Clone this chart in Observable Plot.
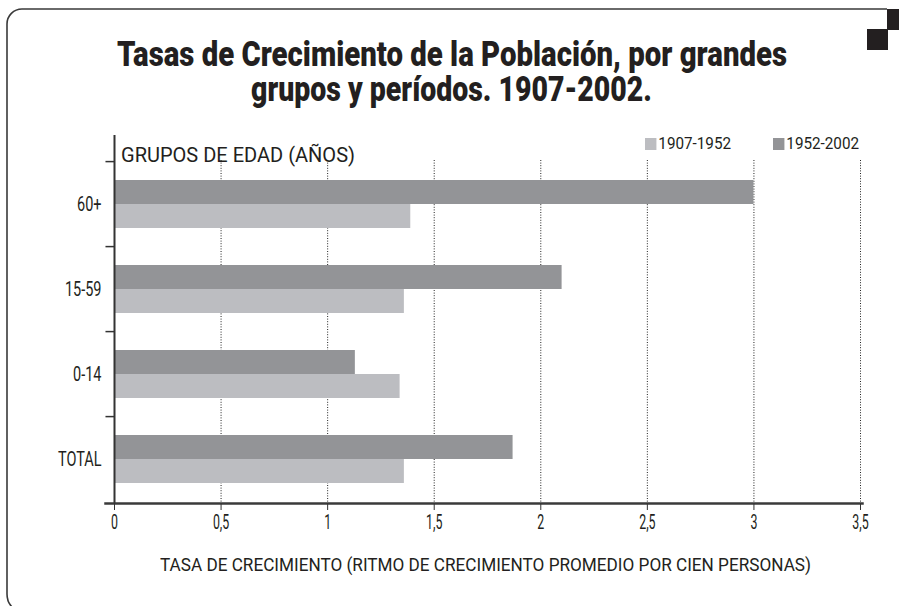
<!DOCTYPE html>
<html>
<head>
<meta charset="utf-8">
<script src="https://cdn.jsdelivr.net/npm/d3@7"></script>
<script src="https://cdn.jsdelivr.net/npm/@observablehq/plot@0.6"></script>
<style>
  html, body { margin: 0; padding: 0; background: #fff; }
  #wrap { position: relative; width: 899px; height: 606px; overflow: hidden;
    font-family: Roboto, "Liberation Sans", sans-serif; color: #231f20; }
  #bg { position: absolute; left: 0; top: 0; }
  #chart { position: absolute; left: 0; top: 0; }
  .fit { position: absolute; white-space: nowrap; display: inline-block; transform-origin: 0 50%; }
  .title { font-weight: 900; font-size: 35px; line-height: 34px; color: #231f20; }
  .ylab { font-size: 21px; line-height: 22px; }
  .legend { font-size: 16px; line-height: 16px; }
  .legend span.sw { display: inline-block; width: 12px; height: 12px; margin-right: 2px; vertical-align: -1px; }
  .xlab { font-size: 19px; line-height: 20px; }
</style>
</head>
<body>
<div id="wrap">
  <svg id="bg" width="899" height="606">
    <path d="M12,607 Q7,602 7,594 L7,24 A15,15 0 0 1 22,9 L887,9" fill="none" stroke="#3a3a3a" stroke-width="1.6"/>
    <rect x="887" y="9" width="12" height="21" fill="#231f20"/>
    <rect x="867" y="29" width="21" height="21" fill="#231f20"/>
  </svg>
  <div id="chart"></div>
  <div class="fit title" data-x="117" data-w="670" style="top:38px">Tasas de Crecimiento de la Población, por grandes</div>
  <div class="fit title" data-x="251" data-w="401" style="top:73px">grupos y períodos. 1907-2002.</div>
  <div class="fit ylab" data-x="121" data-w="234" style="top:144px">GRUPOS DE EDAD (AÑOS)</div>
  <div class="fit xlab" data-x="160" data-w="651" style="top:555px">TASA DE CRECIMIENTO (RITMO DE CRECIMIENTO PROMEDIO POR CIEN PERSONAS)</div>
</div>
<script>
// Data
const groups = ["60+", "15-59", "0-14", "TOTAL"];
const periods = ["1907-1952", "1952-2002"];
const values1907_1952 = [1.39, 1.36, 1.34, 1.36];
const values1952_2002 = [3.0, 2.10, 1.13, 1.87];
const xTicks = [0, 0.5, 1, 1.5, 2, 2.5, 3, 3.5];
const colors = {"1907-1952": "#bcbdc1", "1952-2002": "#939497"};

const rows = groups.flatMap((g, i) => [
  {group: g, period: "1952-2002", value: values1952_2002[i]},
  {group: g, period: "1907-1952", value: values1907_1952[i]}
]);
const fmt = d => String(d).replace(".", ",");
const FONT = 'Roboto, "Liberation Sans", sans-serif';

const plot = Plot.plot({
  width: 899,
  height: 606,
  marginTop: 135,
  marginBottom: 103,
  marginLeft: 105,
  marginRight: 37,
  style: {fontFamily: FONT, background: "transparent", color: "#231f20", overflow: "visible"},
  x: {domain: [0, 3.5], range: [114, 860]},
  y: {domain: groups, range: [160, 503], paddingInner: 0.44, paddingOuter: 0.22},
  marks: [
    Plot.ruleX(xTicks.slice(1), {stroke: "#222", strokeWidth: 1, strokeDasharray: "1,1.6", insetTop: 25}),
    Plot.barX(rows.filter(d => d.period === "1952-2002"), {y: "group", x: "value", fill: colors["1952-2002"], insetBottom: 24}),
    Plot.barX(rows.filter(d => d.period === "1907-1952"), {y: "group", x: "value", fill: colors["1907-1952"], insetTop: 24}),
    Plot.ruleY(groups, {y: d => d, x1: -0.04, x2: 0, dy: -42.9, stroke: "#333", strokeWidth: 1.5}),
    Plot.ruleX([0], {stroke: "#333", strokeWidth: 2}),
    Plot.frame({anchor: "bottom", stroke: "#3a3a3a", strokeWidth: 2.5}),
    Plot.axisX({ticks: xTicks, tickFormat: fmt, tickSize: 7, tickPadding: 4, fontSize: 20, label: null, stroke: "#333"}),
    Plot.axisY({tickSize: 0, tickPadding: 4, fontSize: 21, label: null})
  ]
});
document.getElementById("chart").appendChild(plot);

// Condensed look for axis labels: scale horizontally about each label's anchor point
function condense(selector, s) {
  plot.querySelectorAll(selector).forEach(t => {
    let x = parseFloat(t.getAttribute("x"));
    if (!isFinite(x)) x = 0;
    const T = t.getAttribute("transform") || "";
    t.setAttribute("transform", `${T} translate(${x},0) scale(${s},1) translate(${-x},0)`.trim());
  });
}
condense('g[aria-label="x-axis tick label"] text', 0.62);
condense('g[aria-label="y-axis tick label"] text', 0.69);

// Legend
const legendPos = {"1907-1952": 645, "1952-2002": 773};
const wrap = document.getElementById("wrap");
for (const p of periods) {
  const item = document.createElement("div");
  item.className = "fit legend";
  item.style.top = "136px";
  item.dataset.x = legendPos[p];
  item.dataset.w = 86;
  item.innerHTML = `<span class="sw" style="background:${colors[p]}"></span>${p}`;
  wrap.appendChild(item);
}

// Fit condensed text to measured widths
document.querySelectorAll(".fit").forEach(el => {
  const w = el.getBoundingClientRect().width;
  const target = +el.dataset.w;
  el.style.left = el.dataset.x + "px";
  el.style.transform = `scaleX(${target / w})`;
});
</script>
</body>
</html>
